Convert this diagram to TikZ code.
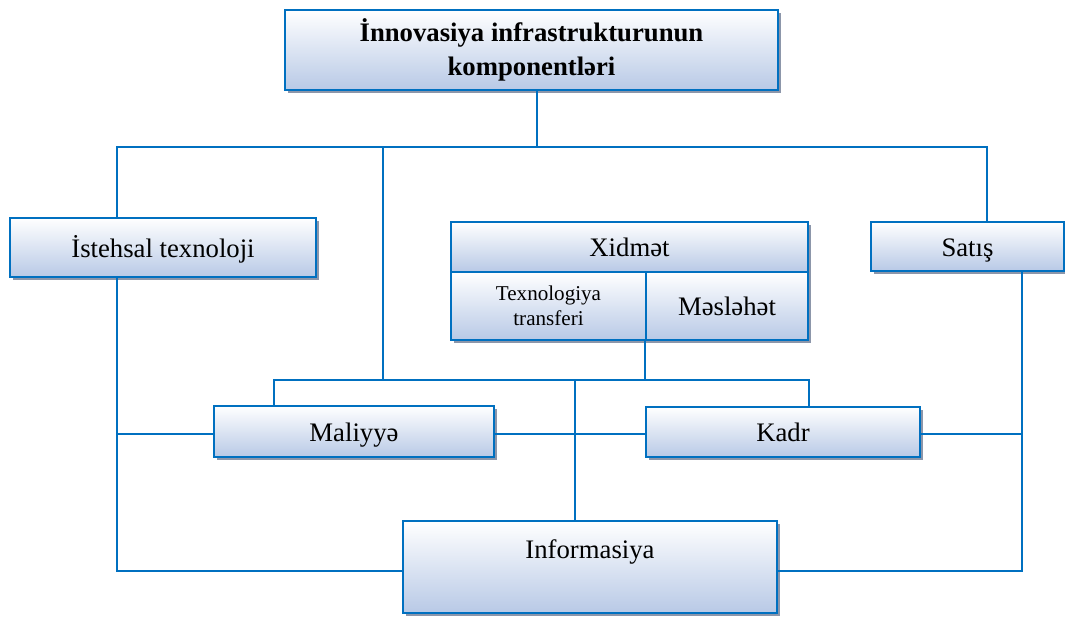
\documentclass[tikz,border=0pt]{standalone}
\usepackage{fontspec}
\setmainfont{Liberation Serif}
\usetikzlibrary{shadows}
\definecolor{boxblue}{RGB}{0,112,192}
\definecolor{boxfill}{RGB}{184,201,230}
\definecolor{boxshadow}{RGB}{140,150,170}
\tikzset{
    compbox/.style = {rectangle, draw=boxblue, line width=1.8pt, top color=white, bottom color=boxfill,
      drop shadow={shadow xshift=0.08cm, shadow yshift=-0.08cm, fill=boxshadow, opacity=1},
      align=center, inner sep=0pt, font=\fontsize{19}{22}\selectfont},
    subbox/.style = {rectangle, draw=boxblue, line width=1.8pt, top color=white, bottom color=boxfill,
      align=center, inner sep=0pt, font=\fontsize{19}{22}\selectfont},
    oneline/.style = {text height=18pt, text depth=4pt},
    link/.style = {draw=boxblue, line width=1.4pt}
}
\begin{document}
\begin{tikzpicture}[x=0.025cm, y=-0.025cm]
  \useasboundingbox (0,0) rectangle (1065,617);

  % boxes
  \node[compbox, minimum width=12.325cm, minimum height=2cm,
        font=\fontsize{19}{24}\selectfont\bfseries] (title) at (531.5,50)
        {İnnovasiya infrastrukturunun\\komponentləri};
  \node[compbox, oneline, minimum width=7.65cm, minimum height=1.475cm] (ist) at (163,247.5) {İstehsal texnoloji};
  \node[compbox, oneline, minimum width=4.825cm, minimum height=1.225cm] (sat) at (967.5,246.5) {Satış};
  \node[compbox, minimum width=8.925cm, minimum height=2.95cm] (xid) at (629.5,281) {};
  \node[subbox, oneline, minimum width=8.925cm, minimum height=1.25cm] (xidt) at (629.5,247) {Xidmət};
  \node[subbox, minimum width=4.875cm, minimum height=1.7cm,
        font=\fontsize{15}{18}\selectfont] (tex) at (548.5,306) {Texnologiya\\transferi};
  \node[subbox, oneline, minimum width=4.05cm, minimum height=1.7cm] (mes) at (727,306) {Məsləhət};
  \node[compbox, oneline, minimum width=7cm, minimum height=1.275cm] (mal) at (354,431.5) {Maliyyə};
  \node[compbox, oneline, minimum width=6.85cm, minimum height=1.25cm] (kad) at (783,432) {Kadr};
  \node[compbox, minimum width=9.35cm, minimum height=2.3cm,
        label={[anchor=north, yshift=-0.38cm, font=\fontsize{19}{22}\selectfont]north:Informasiya}] (inf) at (590,567) {};

  % connectors
  \coordinate (tl) at (117,147);
  \coordinate (tm) at (383,147);
  \coordinate (tr) at (987,147);
  \coordinate (ml) at (274,380);
  \coordinate (mc) at (575,380);
  \coordinate (mr) at (809,380);
  \coordinate (hl) at (117,434);
  \coordinate (hr) at (1022,434);
  \coordinate (bl) at (117,571);
  \coordinate (br) at (1022,571);

  \draw[link] (title.south -| 537,0) -- (537,147);
  \draw[link] (ist.north -| tl) -- (tl) -- (tr) -- (sat.north -| tr);
  \draw[link] (tm) -- (tm |- ml);
  \draw[link] (mes.south west) -- (mes.south west |- ml);
  \draw[link] (mal.north -| ml) -- (ml) -- (mr) -- (kad.north -| mr);
  \draw[link] (mc) -- (inf.north -| mc);
  \draw[link] (ist.south -| bl) -- (bl) -- (bl -| inf.west);
  \draw[link] (sat.south -| br) -- (br) -- (br -| inf.east);
  \draw[link] (hl) -- (hl -| mal.west);
  \draw[link] (hl -| mal.east) -- (hl -| kad.west);
  \draw[link] (hl -| kad.east) -- (hr);
\end{tikzpicture}
\end{document}
